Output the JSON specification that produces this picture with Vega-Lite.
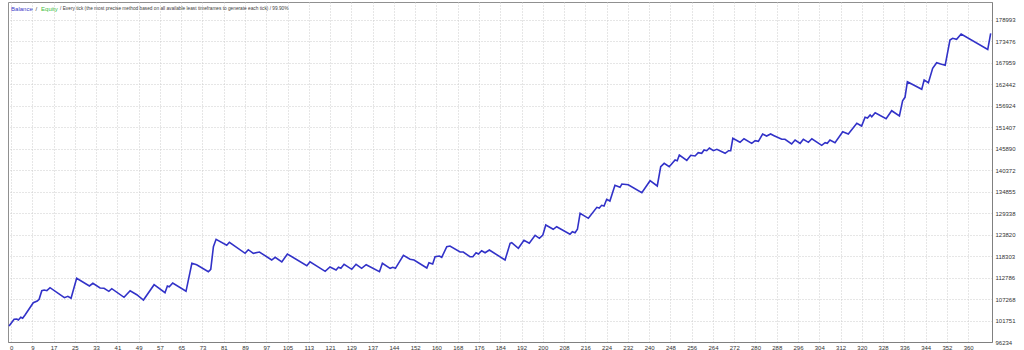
{
  "$schema": "https://vega.github.io/schema/vega-lite/v6.json",
  "width": 984,
  "height": 340,
  "autosize": {"type": "none"},
  "padding": {"left": 8, "top": 2, "right": 32, "bottom": 8},
  "background": "white",
  "config": {
    "view": {"stroke": "#909090", "strokeWidth": 1},
    "axis": {
      "labelFont": "Liberation Sans",
      "labelFontSize": 6,
      "labelColor": "#333333",
      "ticks": false,
      "grid": true,
      "gridColor": "#cccccc",
      "gridDash": [1, 2],
      "gridWidth": 1,
      "domainColor": "#808080",
      "labelOverlap": false,
      "labelFlush": false,
      "labelBound": false,
      "tickCount": 100,
      "title": null
    }
  },
  "layer": [
    {
      "data": {
        "values": [
          {"trade": 0, "balance": 100340},
          {"trade": 1.9, "balance": 102059},
          {"trade": 2.9, "balance": 102136},
          {"trade": 3.5, "balance": 101879},
          {"trade": 4.4, "balance": 102572},
          {"trade": 5.1, "balance": 102315},
          {"trade": 6.0, "balance": 103162},
          {"trade": 9.1, "balance": 106318},
          {"trade": 10.6, "balance": 106755},
          {"trade": 11.3, "balance": 107191},
          {"trade": 12.3, "balance": 109398},
          {"trade": 13.2, "balance": 109577},
          {"trade": 14.2, "balance": 109398},
          {"trade": 15.4, "balance": 110168},
          {"trade": 20.8, "balance": 107602},
          {"trade": 22.1, "balance": 107961},
          {"trade": 23.3, "balance": 107448},
          {"trade": 25.4, "balance": 112580},
          {"trade": 30.2, "balance": 110604},
          {"trade": 31.5, "balance": 111297},
          {"trade": 34.2, "balance": 110090},
          {"trade": 35.7, "balance": 110014},
          {"trade": 37.5, "balance": 109244},
          {"trade": 38.6, "balance": 109911},
          {"trade": 43.2, "balance": 107704},
          {"trade": 45.5, "balance": 109398},
          {"trade": 48.0, "balance": 108371},
          {"trade": 50.5, "balance": 107011},
          {"trade": 54.5, "balance": 110937},
          {"trade": 58.6, "balance": 108884},
          {"trade": 59.5, "balance": 110604},
          {"trade": 60.2, "balance": 110424},
          {"trade": 61.5, "balance": 111373},
          {"trade": 66.5, "balance": 109244},
          {"trade": 68.7, "balance": 116428},
          {"trade": 70.5, "balance": 116069},
          {"trade": 74.9, "balance": 114273},
          {"trade": 75.8, "balance": 114889},
          {"trade": 76.8, "balance": 120688},
          {"trade": 77.8, "balance": 122587},
          {"trade": 81.8, "balance": 121047},
          {"trade": 82.8, "balance": 121817},
          {"trade": 88.7, "balance": 118994},
          {"trade": 89.9, "balance": 119918},
          {"trade": 91.8, "balance": 118994},
          {"trade": 94.1, "balance": 119328},
          {"trade": 98.7, "balance": 117275},
          {"trade": 100.0, "balance": 117968},
          {"trade": 102.5, "balance": 116762},
          {"trade": 104.6, "balance": 118815},
          {"trade": 111.9, "balance": 115813},
          {"trade": 113.1, "balance": 116839},
          {"trade": 118.8, "balance": 114376},
          {"trade": 120.6, "balance": 115479},
          {"trade": 122.9, "balance": 114709},
          {"trade": 123.8, "balance": 115402},
          {"trade": 124.7, "balance": 115145},
          {"trade": 125.9, "balance": 116172},
          {"trade": 128.8, "balance": 114889},
          {"trade": 130.4, "balance": 116172},
          {"trade": 132.5, "balance": 115145},
          {"trade": 134.2, "balance": 116069},
          {"trade": 139.2, "balance": 114273},
          {"trade": 140.3, "balance": 116428},
          {"trade": 143.2, "balance": 115145},
          {"trade": 144.2, "balance": 115402},
          {"trade": 145.2, "balance": 115145},
          {"trade": 148.2, "balance": 118481},
          {"trade": 150.7, "balance": 117454},
          {"trade": 152.2, "balance": 117275},
          {"trade": 157.0, "balance": 115222},
          {"trade": 157.8, "balance": 116582},
          {"trade": 159.2, "balance": 116249},
          {"trade": 160.1, "balance": 118122},
          {"trade": 161.7, "balance": 118302},
          {"trade": 162.6, "balance": 117968},
          {"trade": 164.5, "balance": 120688},
          {"trade": 165.7, "balance": 120868},
          {"trade": 169.5, "balance": 119328},
          {"trade": 170.7, "balance": 119328},
          {"trade": 173.2, "balance": 118122},
          {"trade": 174.3, "balance": 118122},
          {"trade": 175.5, "balance": 119148},
          {"trade": 176.4, "balance": 118815},
          {"trade": 177.6, "balance": 119661},
          {"trade": 178.9, "balance": 119148},
          {"trade": 180.5, "balance": 119841},
          {"trade": 186.4, "balance": 117275},
          {"trade": 188.3, "balance": 121560},
          {"trade": 188.9, "balance": 121714},
          {"trade": 191.4, "balance": 120278},
          {"trade": 193.5, "balance": 122330},
          {"trade": 195.5, "balance": 121560},
          {"trade": 197.7, "balance": 123613},
          {"trade": 199.3, "balance": 122843},
          {"trade": 200.6, "balance": 123690},
          {"trade": 201.7, "balance": 126256},
          {"trade": 204.5, "balance": 125153},
          {"trade": 205.8, "balance": 125820},
          {"trade": 210.8, "balance": 123870},
          {"trade": 211.7, "balance": 124537},
          {"trade": 212.7, "balance": 124280},
          {"trade": 213.6, "balance": 125153},
          {"trade": 214.6, "balance": 129258},
          {"trade": 217.7, "balance": 127975},
          {"trade": 220.9, "balance": 130798},
          {"trade": 221.8, "balance": 130618},
          {"trade": 222.7, "balance": 131311},
          {"trade": 223.6, "balance": 131132},
          {"trade": 224.6, "balance": 132851},
          {"trade": 225.8, "balance": 132415},
          {"trade": 227.7, "balance": 136443},
          {"trade": 229.6, "balance": 135930},
          {"trade": 230.3, "balance": 136777},
          {"trade": 232.7, "balance": 136597},
          {"trade": 237.8, "balance": 134544},
          {"trade": 240.9, "balance": 137624},
          {"trade": 243.6, "balance": 136264},
          {"trade": 244.9, "balance": 141216},
          {"trade": 246.2, "balance": 142088},
          {"trade": 248.1, "balance": 141216},
          {"trade": 250.3, "balance": 142935},
          {"trade": 251.1, "balance": 142755},
          {"trade": 251.9, "balance": 144217},
          {"trade": 254.7, "balance": 142857},
          {"trade": 256.2, "balance": 144140},
          {"trade": 257.8, "balance": 143962},
          {"trade": 259.0, "balance": 144809},
          {"trade": 260.3, "balance": 144655},
          {"trade": 261.2, "balance": 145501},
          {"trade": 262.2, "balance": 145322},
          {"trade": 263.2, "balance": 146014},
          {"trade": 264.7, "balance": 145322},
          {"trade": 266.0, "balance": 145681},
          {"trade": 269.1, "balance": 144655},
          {"trade": 270.4, "balance": 145322},
          {"trade": 271.2, "balance": 145322},
          {"trade": 272.0, "balance": 148504},
          {"trade": 274.7, "balance": 147477},
          {"trade": 276.2, "balance": 148401},
          {"trade": 279.1, "balance": 147221},
          {"trade": 280.4, "balance": 147888},
          {"trade": 281.6, "balance": 147734},
          {"trade": 283.2, "balance": 149607},
          {"trade": 284.7, "balance": 149094},
          {"trade": 286.2, "balance": 149607},
          {"trade": 287.5, "balance": 149170},
          {"trade": 290.4, "balance": 148247},
          {"trade": 291.6, "balance": 148247},
          {"trade": 294.1, "balance": 147040},
          {"trade": 295.4, "balance": 148067},
          {"trade": 297.3, "balance": 147221},
          {"trade": 298.5, "balance": 148247},
          {"trade": 300.4, "balance": 147477},
          {"trade": 301.7, "balance": 148401},
          {"trade": 305.4, "balance": 146707},
          {"trade": 306.7, "balance": 147375},
          {"trade": 307.5, "balance": 147221},
          {"trade": 308.5, "balance": 148067},
          {"trade": 310.4, "balance": 147375},
          {"trade": 313.3, "balance": 150197},
          {"trade": 315.4, "balance": 149607},
          {"trade": 318.6, "balance": 152352},
          {"trade": 320.4, "balance": 151660},
          {"trade": 321.7, "balance": 153892},
          {"trade": 322.6, "balance": 153712},
          {"trade": 323.6, "balance": 154482},
          {"trade": 324.2, "balance": 154046},
          {"trade": 325.5, "balance": 155072},
          {"trade": 329.6, "balance": 153532},
          {"trade": 331.7, "balance": 155585},
          {"trade": 334.6, "balance": 154225},
          {"trade": 335.8, "balance": 158151},
          {"trade": 336.7, "balance": 159023},
          {"trade": 337.6, "balance": 163026},
          {"trade": 343.0, "balance": 161076},
          {"trade": 343.9, "balance": 163463},
          {"trade": 345.5, "balance": 162770},
          {"trade": 347.1, "balance": 166465},
          {"trade": 348.6, "balance": 167902},
          {"trade": 350.1, "balance": 167568},
          {"trade": 351.8, "balance": 167235},
          {"trade": 353.6, "balance": 173727},
          {"trade": 354.6, "balance": 174163},
          {"trade": 356.1, "balance": 173907},
          {"trade": 357.8, "balance": 175267},
          {"trade": 367.8, "balance": 171289},
          {"trade": 368.9, "balance": 175446}
        ]
      },
      "mark": {"type": "line", "color": "#3232c8", "strokeWidth": 1.6, "interpolate": "linear"},
      "encoding": {
        "x": {
          "field": "trade",
          "type": "quantitative",
          "scale": {"domain": [-0.4, 369.4], "nice": false, "zero": false},
          "axis": {
            "orient": "bottom",
            "values": [0.75, 8.74, 16.74, 24.73, 32.72, 40.72, 48.71, 56.70, 64.70, 72.69, 80.68, 88.68, 96.67, 104.66, 112.65, 120.65, 128.64, 136.63, 144.63, 152.62, 160.61, 168.61, 176.60, 184.59, 192.59, 200.58, 208.57, 216.57, 224.56, 232.55, 240.55, 248.54, 256.53, 264.53, 272.52, 280.51, 288.51, 296.50, 304.49, 312.49, 320.48, 328.47, 336.47, 344.46, 352.45, 360.45],
            "labelExpr": "'' + [0, 9, 17, 25, 33, 41, 49, 57, 65, 73, 81, 89, 97, 105, 113, 121, 129, 137, 144, 152, 160, 168, 176, 184, 192, 200, 208, 216, 224, 232, 240, 248, 256, 264, 272, 280, 288, 296, 304, 312, 320, 328, 336, 344, 352, 360][round((datum.value - 0.75) / 7.993)]",
            "tickCount": 100,
            "labelPadding": 2,
            "labelOverlap": false,
            "labelFlush": false,
            "labelBound": false
          }
        },
        "y": {
          "field": "balance",
          "type": "quantitative",
          "scale": {"domain": [96234, 183485], "nice": false, "zero": false},
          "axis": {
            "orient": "right",
            "values": [96234, 101751, 107268, 112786, 118303, 123820, 129338, 134855, 140372, 145890, 151407, 156924, 162442, 167959, 173476, 178993],
            "format": "d",
            "tickCount": 100,
            "labelAlign": "left",
            "labelBaseline": "middle",
            "labelPadding": 3,
            "labelOverlap": false,
            "labelFlush": false,
            "labelBound": false
          }
        }
      }
    },
    {
      "data": {"values": [{"text": "Balance"}]},
      "mark": {"type": "text", "font": "Liberation Sans", "fontSize": 6, "color": "#3a3ac8", "align": "left", "baseline": "middle", "dx": 2, "dy": 7},
      "encoding": {"x": {"datum": 0, "type": "quantitative"}, "y": {"datum": 183485, "type": "quantitative"}, "text": {"field": "text"}}
    },
    {
      "data": {"values": [{"text": "/"}]},
      "mark": {"type": "text", "font": "Liberation Sans", "fontSize": 6, "color": "#404040", "align": "left", "baseline": "middle", "dx": 26.5, "dy": 7},
      "encoding": {"x": {"datum": 0, "type": "quantitative"}, "y": {"datum": 183485, "type": "quantitative"}, "text": {"field": "text"}}
    },
    {
      "data": {"values": [{"text": "Equity"}]},
      "mark": {"type": "text", "font": "Liberation Sans", "fontSize": 6, "color": "#3cbe3c", "align": "left", "baseline": "middle", "dx": 32, "dy": 7},
      "encoding": {"x": {"datum": 0, "type": "quantitative"}, "y": {"datum": 183485, "type": "quantitative"}, "text": {"field": "text"}}
    },
    {
      "data": {"values": [{"text": "/ Every tick (the most precise method based on all available least timeframes to generate each tick) / 99.90%"}]},
      "mark": {"type": "text", "font": "Liberation Sans", "fontSize": 4.75, "color": "#404040", "align": "left", "baseline": "middle", "dx": 51, "dy": 7},
      "encoding": {"x": {"datum": 0, "type": "quantitative"}, "y": {"datum": 183485, "type": "quantitative"}, "text": {"field": "text"}}
    }
  ]
}
